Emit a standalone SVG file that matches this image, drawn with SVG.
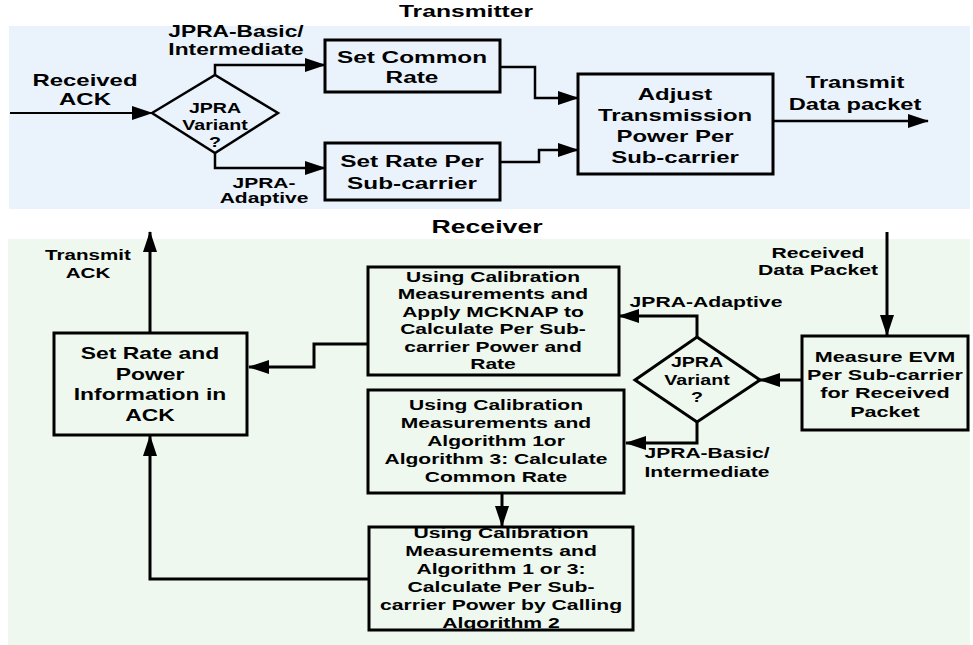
<svg xmlns="http://www.w3.org/2000/svg" width="973" height="645" viewBox="0 0 973 645">
  <style>
    .t { font-family: "Liberation Sans", Arial, sans-serif; font-weight: bold; text-anchor: middle; fill: #000; }
    .box { fill: none; stroke: #000; stroke-width: 3; }
    .dec { fill: none; stroke: #000; stroke-width: 2.5; stroke-linejoin: miter; }
    .wire { fill: none; stroke: #000; stroke-width: 2.5; marker-end: url(#arrow); }
    .wire.thick { stroke-width: 3; }
  </style>
  <defs>
    <marker id="arrow" markerUnits="userSpaceOnUse" markerWidth="21" markerHeight="14" refX="20" refY="7" orient="auto">
      <path d="M0,0 L21,7 L0,14 Z" fill="#000"/>
    </marker>
  </defs>

  <!-- panels -->
  <rect x="9" y="26" width="961" height="183" fill="#EAF3FC"/>
  <rect x="8" y="239" width="962" height="406" fill="#EEF8EF"/>

  <!-- section titles -->
  <text class="t" transform="matrix(1.45 0 0 1 466 0)" style="font-size:17px"><tspan x="0" y="17">Transmitter</tspan></text>
  <text class="t" transform="matrix(1.45 0 0 1 487 0)" style="font-size:18.4px"><tspan x="0" y="233">Receiver</tspan></text>

  <!-- connectors -->
  <g id="connectors">
    <path class="wire" style="stroke-width:2" d="M10,113 H152"/>
    <path class="wire" d="M215,75 V65 H325"/>
    <path class="wire" d="M215,153 V168 H325"/>
    <path class="wire" d="M500,67 H535 V98 H578"/>
    <path class="wire" d="M500,162 H539 V150 H578"/>
    <path class="wire" d="M773,121 H928"/>

    <path class="wire thick" d="M150,333 V232"/>
    <path class="wire thick" d="M368,344 H314 V367 H249"/>
    <path class="wire thick" d="M697,337 V316 H619"/>
    <path class="wire thick" d="M697,422 V443 H626"/>
    <path class="wire thick" d="M802,380 H760"/>
    <path class="wire thick" d="M887,232 V335"/>
    <path class="wire thick" d="M502,493 V526"/>
    <path class="wire thick" d="M369,579 H150 V436"/>

    <!-- connector labels -->
    <text class="t" transform="matrix(1.45 0 0 1 85 0)" style="font-size:16.5px"><tspan x="0" y="86">Received</tspan><tspan x="0" y="105">ACK</tspan></text>
    <text class="t" transform="matrix(1.45 0 0 1 236 0)" style="font-size:15.7px"><tspan x="0" y="37">JPRA-Basic/</tspan><tspan x="0" y="55">Intermediate</tspan></text>
    <text class="t" transform="matrix(1.45 0 0 1 264 0)" style="font-size:14.5px"><tspan x="0" y="188">JPRA-</tspan><tspan x="0" y="203">Adaptive</tspan></text>
    <text class="t" transform="matrix(1.45 0 0 1 855 0)" style="font-size:16.3px"><tspan x="0" y="88">Transmit</tspan><tspan x="0" y="110">Data packet</tspan></text>
    <text class="t" transform="matrix(1.45 0 0 1 88 0)" style="font-size:14.2px"><tspan x="0" y="260">Transmit</tspan><tspan x="0" y="278">ACK</tspan></text>
    <text class="t" transform="matrix(1.45 0 0 1 706 0)" style="font-size:14.6px"><tspan x="0" y="307">JPRA-Adaptive</tspan></text>
    <text class="t" transform="matrix(1.45 0 0 1 818 0)" style="font-size:14.6px"><tspan x="0" y="258">Received</tspan><tspan x="0" y="275">Data Packet</tspan></text>
    <text class="t" transform="matrix(1.45 0 0 1 707 0)" style="font-size:14.5px"><tspan x="0" y="458">JPRA-Basic/</tspan><tspan x="0" y="477">Intermediate</tspan></text>
  </g>

  <!-- transmitter nodes -->
  <g id="tx-variant">
    <polygon class="dec" points="152,113 215,75 278,113 215,153"/>
    <text class="t" transform="matrix(1.4 0 0 1 215 0)" style="font-size:14px"><tspan x="0" y="113">JPRA</tspan><tspan x="0" y="130">Variant</tspan><tspan x="0" y="147">?</tspan></text>
  </g>
  <g id="set-common-rate">
    <rect class="box" x="325" y="40" width="175" height="52"/>
    <text class="t" transform="matrix(1.45 0 0 1 412 0)" style="font-size:16.8px"><tspan x="0" y="63">Set Common</tspan><tspan x="0" y="83">Rate</tspan></text>
  </g>
  <g id="set-rate-per-subcarrier">
    <rect class="box" x="325" y="143" width="175" height="57"/>
    <text class="t" transform="matrix(1.45 0 0 1 412 0)" style="font-size:16.8px"><tspan x="0" y="167">Set Rate Per</tspan><tspan x="0" y="189">Sub-carrier</tspan></text>
  </g>
  <g id="adjust-power">
    <rect class="box" x="578" y="74" width="195" height="100"/>
    <text class="t" transform="matrix(1.45 0 0 1 675 0)" style="font-size:16.5px"><tspan x="0" y="100">Adjust</tspan><tspan x="0" y="121">Transmission</tspan><tspan x="0" y="142">Power Per</tspan><tspan x="0" y="163">Sub-carrier</tspan></text>
  </g>

  <!-- receiver nodes -->
  <g id="set-rate-power-ack">
    <rect class="box" x="54" y="333" width="193" height="102"/>
    <text class="t" transform="matrix(1.45 0 0 1 150 0)" style="font-size:15.8px"><tspan x="0" y="359">Set Rate and</tspan><tspan x="0" y="380">Power</tspan><tspan x="0" y="400">Information in</tspan><tspan x="0" y="421">ACK</tspan></text>
  </g>
  <g id="mcknap">
    <rect class="box" x="368" y="267" width="251" height="108"/>
    <text class="t" transform="matrix(1.45 0 0 1 493 0)" style="font-size:14.5px"><tspan x="0" y="282">Using Calibration</tspan><tspan x="0" y="299.5">Measurements and</tspan><tspan x="0" y="317">Apply MCKNAP to</tspan><tspan x="0" y="334.5">Calculate Per Sub-</tspan><tspan x="0" y="352">carrier Power and</tspan><tspan x="0" y="369">Rate</tspan></text>
  </g>
  <g id="rx-variant">
    <polygon class="dec" style="stroke-width:3" points="635,380 697,337 760,380 697,422"/>
    <text class="t" transform="matrix(1.4 0 0 1 697 0)" style="font-size:14px"><tspan x="0" y="367">JPRA</tspan><tspan x="0" y="385">Variant</tspan><tspan x="0" y="402">?</tspan></text>
  </g>
  <g id="measure-evm">
    <rect class="box" x="802" y="336" width="166" height="94"/>
    <text class="t" transform="matrix(1.45 0 0 1 885 0)" style="font-size:14.9px"><tspan x="0" y="362">Measure EVM</tspan><tspan x="0" y="380">Per Sub-carrier</tspan><tspan x="0" y="398">for Received</tspan><tspan x="0" y="417">Packet</tspan></text>
  </g>
  <g id="common-rate">
    <rect class="box" x="368" y="390" width="256" height="103"/>
    <text class="t" transform="matrix(1.45 0 0 1 496 0)" style="font-size:14.5px"><tspan x="0" y="410">Using Calibration</tspan><tspan x="0" y="428">Measurements and</tspan><tspan x="0" y="446">Algorithm 1or</tspan><tspan x="0" y="464">Algorithm 3: Calculate</tspan><tspan x="0" y="482">Common Rate</tspan></text>
  </g>
  <g id="per-subcarrier-power">
    <rect class="box" x="369" y="527" width="264" height="103"/>
    <text class="t" transform="matrix(1.45 0 0 1 501 0)" style="font-size:14.6px"><tspan x="0" y="538">Using Calibration</tspan><tspan x="0" y="556">Measurements and</tspan><tspan x="0" y="574">Algorithm 1 or 3:</tspan><tspan x="0" y="592">Calculate Per Sub-</tspan><tspan x="0" y="610">carrier Power by Calling</tspan><tspan x="0" y="628">Algorithm 2</tspan></text>
  </g>
</svg>
